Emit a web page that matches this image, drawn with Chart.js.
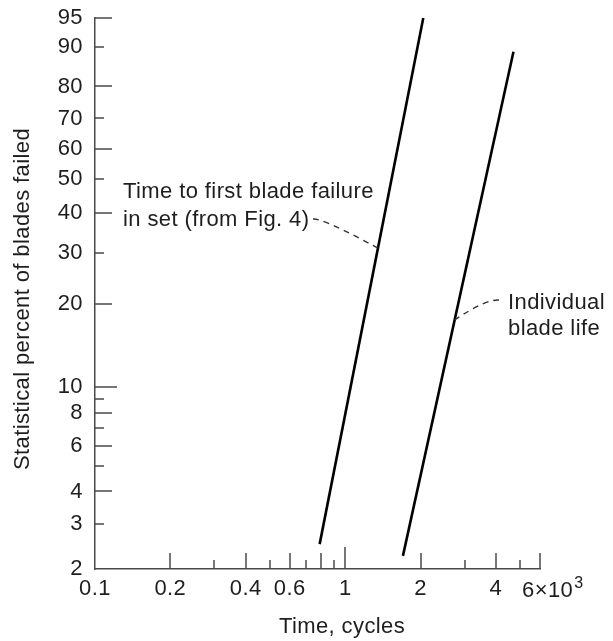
<!DOCTYPE html>
<html>
<head>
<meta charset="utf-8">
<script src="https://cdn.jsdelivr.net/npm/chart.js@4"></script>
<style>
  html, body { margin: 0; padding: 0; background: #fff; }
  #wrap { width: 613px; height: 641px; position: relative; }
</style>
</head>
<body>
<div id="wrap"><canvas id="chart"></canvas></div>
<script>
// values: time in thousands of cycles, percent failed
const firstFailTime = [0.79, 2.05];
const firstFailPct = [2.5, 95];
const bladeLifeTime = [1.70, 4.7];
const bladeLifePct = [2.25, 89];

// axis ticks
const xTicks = [0.1, 0.2, 0.3, 0.4, 0.5, 0.6, 0.7, 0.8, 0.9, 1, 2, 3, 4, 5, 6];
const xLabels = ['0.1', '0.2', '', '0.4', '', '0.6', '', '', '', '1', '2', '', '4', '', ''];
const xMinor = [0.3, 0.5, 0.7, 0.9, 3, 5];

const yTicks = [95, 90, 80, 70, 60, 50, 40, 30, 20, 10, 9, 8, 7, 6, 5, 4, 3, 2];
const yLabels = ['95', '90', '80', '70', '60', '50', '40', '30', '20', '10', '', '8', '', '6', '', '4', '3', '2'];
const yMinor = [90, 70, 50, 30, 9, 7, 5, 3];

const FONT = { family: '"Liberation Sans", Arial, sans-serif', size: 22 };
const SPACING = '0.4px';
const ink = '#1e1e1e';
const axisColor = '#4a4a4a';

// weibull probability scale
const weib = p => Math.log(-Math.log(1 - p / 100));

// point on a straight weibull line at a given percent
function pointOn(times, pcts, p) {
  const w0 = weib(pcts[0]), w1 = weib(pcts[1]);
  const t = (weib(p) - w0) / (w1 - w0);
  const l0 = Math.log10(times[0]), l1 = Math.log10(times[1]);
  return { x: Math.pow(10, l0 + t * (l1 - l0)), y: weib(p) };
}

const inkPlugin = {
  id: 'ink',
  beforeDraw(chart) {
    chart.ctx.letterSpacing = SPACING;
  },
  afterDraw(chart) {
    const { ctx, scales: { x, y }, chartArea: a } = chart;
    ctx.save();
    ctx.letterSpacing = SPACING;

    // inward tick marks
    ctx.strokeStyle = axisColor;
    ctx.lineWidth = 1.5;
    ctx.beginPath();
    xTicks.forEach(v => {
      if (v === xTicks[0]) return;
      const len = v === 1 ? 22 : (xMinor.includes(v) ? 9 : 16);
      const px = Math.round(x.getPixelForValue(v));
      ctx.moveTo(px, a.bottom);
      ctx.lineTo(px, a.bottom - len);
    });
    yTicks.forEach(p => {
      if (p === yTicks[yTicks.length - 1]) return;
      const len = p === 10 ? 22 : (yMinor.includes(p) ? 9 : 17);
      const py = Math.round(y.getPixelForValue(weib(p)));
      ctx.moveTo(a.left, py);
      ctx.lineTo(a.left + len, py);
    });
    ctx.stroke();

    // last x label "6×10³"
    ctx.fillStyle = ink;
    ctx.font = `${FONT.size}px ${FONT.family}`;
    ctx.textBaseline = 'alphabetic';
    ctx.textAlign = 'left';
    const p6 = x.getPixelForValue(6);
    const lab = '6×10';
    ctx.fillText(lab, p6 - 18, a.bottom + 28);
    const w = ctx.measureText(lab).width;
    ctx.font = `16px ${FONT.family}`;
    ctx.fillText('3', p6 - 18 + w + 1, a.bottom + 19);
    ctx.font = `${FONT.size}px ${FONT.family}`;

    // axis titles
    ctx.textAlign = 'center';
    ctx.textBaseline = 'middle';
    ctx.fillText('Time, cycles', 342, 627);
    ctx.save();
    ctx.translate(23, 299);
    ctx.rotate(-Math.PI / 2);
    ctx.fillText('Statistical percent of blades failed', 0, 0);
    ctx.restore();

    // annotations
    ctx.textAlign = 'left';
    ctx.textBaseline = 'alphabetic';
    ctx.fillText('Time to first blade failure', 123, 198);
    ctx.fillText('in set (from Fig. 4)', 123, 226);
    ctx.fillText('Individual', 508, 309);
    ctx.fillText('blade life', 508, 335);

    // dashed leaders
    ctx.strokeStyle = '#333';
    ctx.lineWidth = 1.4;
    ctx.setLineDash([6, 5]);
    const e1 = pointOn(firstFailTime, firstFailPct, 31);
    ctx.beginPath();
    ctx.moveTo(313, 219);
    ctx.quadraticCurveTo(323, 218, x.getPixelForValue(e1.x), y.getPixelForValue(e1.y));
    ctx.stroke();
    const e2 = pointOn(bladeLifeTime, bladeLifePct, 17.6);
    ctx.beginPath();
    ctx.moveTo(499, 300);
    ctx.quadraticCurveTo(486, 299, x.getPixelForValue(e2.x), y.getPixelForValue(e2.y));
    ctx.stroke();
    ctx.restore();
  }
};

const toPoints = (times, pcts) => times.map((t, i) => ({ x: t, y: weib(pcts[i]) }));

new Chart(document.getElementById('chart'), {
  type: 'scatter',
  data: {
    datasets: [
      {
        label: 'Time to first blade failure in set',
        data: toPoints(firstFailTime, firstFailPct),
        showLine: true,
        borderColor: '#000',
        borderWidth: 2.6,
        pointRadius: 0
      },
      {
        label: 'Individual blade life',
        data: toPoints(bladeLifeTime, bladeLifePct),
        showLine: true,
        borderColor: '#000',
        borderWidth: 2.6,
        pointRadius: 0
      }
    ]
  },
  options: {
    responsive: true,
    maintainAspectRatio: false,
    animation: false,
    layout: { padding: { top: 18, right: 73, left: 0, bottom: 0 } },
    plugins: {
      legend: { display: false },
      tooltip: { enabled: false }
    },
    scales: {
      x: {
        type: 'logarithmic',
        min: 0.1,
        max: 6,
        afterFit: s => { s.height = 72; s.paddingLeft = 0; s.paddingRight = 0; },
        afterBuildTicks: s => { s.ticks = xTicks.map(v => ({ value: v })); },
        grid: { display: false, drawTicks: false },
        border: { display: true, color: axisColor, width: 1.5 },
        ticks: {
          autoSkip: false,
          maxRotation: 0,
          padding: 7,
          color: ink,
          font: FONT,
          callback: (v, i) => xLabels[i]
        }
      },
      y: {
        type: 'linear',
        min: weib(2),
        max: weib(95),
        afterFit: s => { s.width = 95; s.paddingTop = 0; s.paddingBottom = 0; },
        afterBuildTicks: s => { s.ticks = yTicks.map(p => ({ value: weib(p) })); },
        grid: { display: false, drawTicks: false },
        border: { display: true, color: axisColor, width: 1.5 },
        ticks: {
          autoSkip: false,
          padding: 12,
          color: ink,
          font: FONT,
          callback: (v, i) => yLabels[i]
        }
      }
    }
  },
  plugins: [inkPlugin]
});
</script>
</body>
</html>
